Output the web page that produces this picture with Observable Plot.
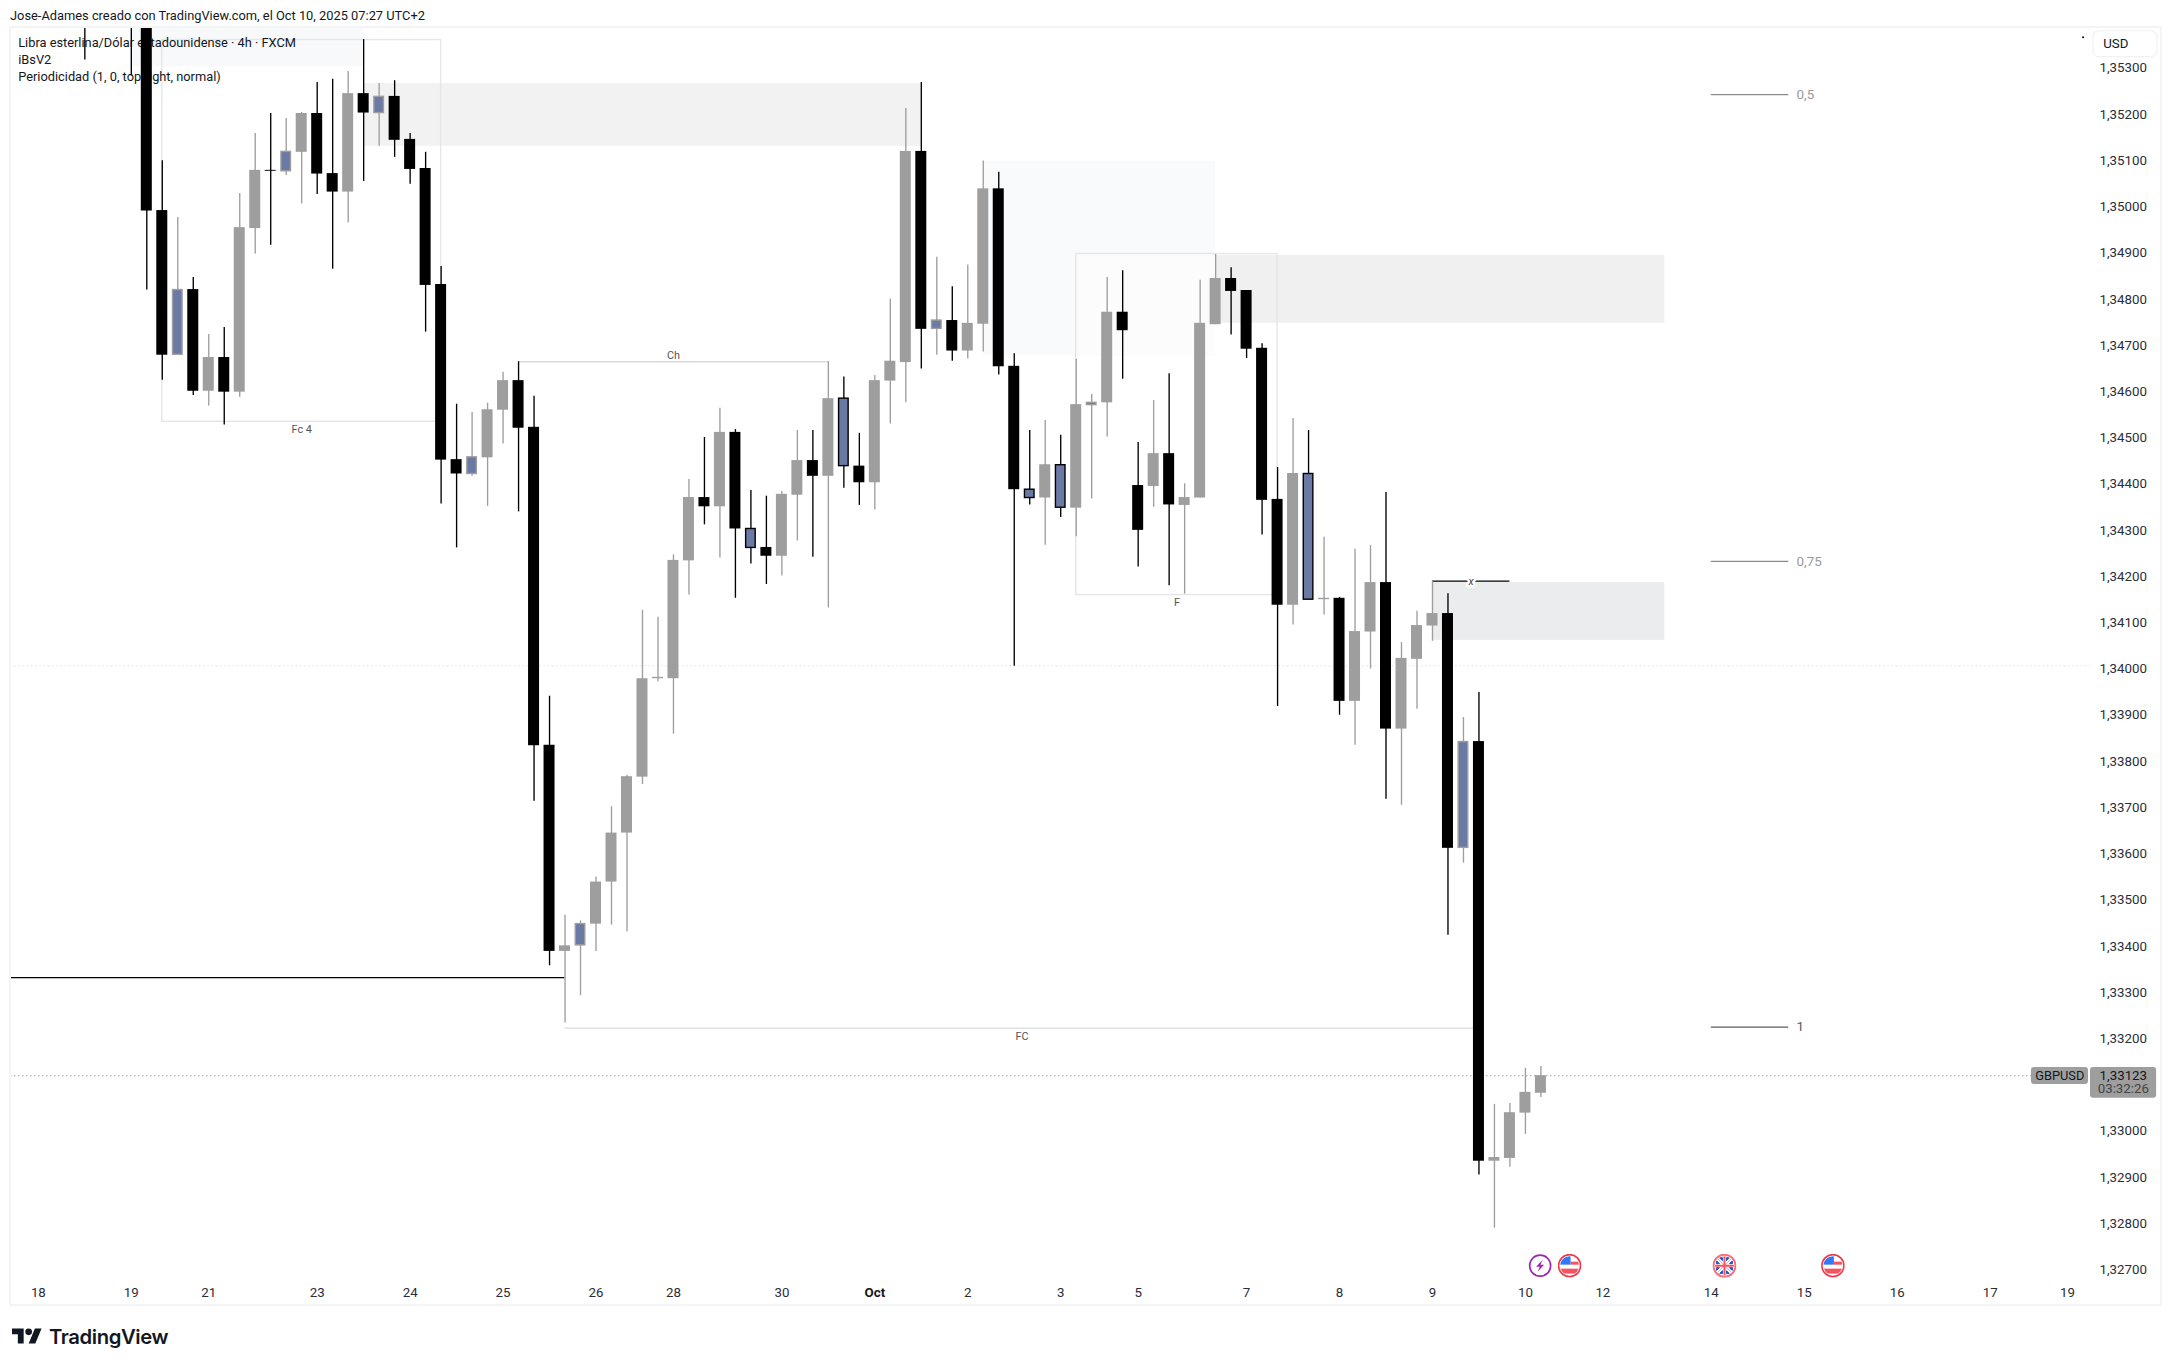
<!DOCTYPE html>
<html lang="es">
<head>
<meta charset="utf-8">
<title>GBPUSD</title>
<script src="https://cdn.jsdelivr.net/npm/d3@7"></script>
<script src="https://cdn.jsdelivr.net/npm/@observablehq/plot@0.6"></script>
<style>
  html, body { margin: 0; padding: 0; background: #fff; overflow: hidden; }
  body { width: 2171px; height: 1366px; position: relative; font-family: Roboto, "Liberation Sans", sans-serif; color: #131722; }
  #head { height: 27px; line-height: 31px; padding-left: 10px; font-size: 12.85px; white-space: nowrap; box-sizing: border-box; }
  #pane { position: relative; height: 1278px; }
  #border { position: absolute; left: 8.5px; top: 25.5px; width: 2153.5px; height: 1280.5px; box-sizing: border-box; border: 2px solid #f3f4f6; pointer-events: none; }
  #foot { position: absolute; left: 12px; top: 1323px; height: 26px; display: flex; align-items: center; gap: 7px; font-family: Inter, sans-serif; font-size: 20.3px; font-weight: 600; letter-spacing: -0.4px; color: #131722; }
</style>
</head>
<body>
<div id="head">Jose-Adames creado con TradingView.com, el Oct 10, 2025 07:27 UTC+2</div>
<div id="pane"></div>
<div id="border"></div>
<div id="foot"><svg width="30" height="16" viewBox="0 3.5 36 19"><path fill="#131722" d="M14 22H7V11H0V4h14v18zM28 22h-8l7.5-18h8L28 22z"/><circle fill="#131722" cx="20" cy="8" r="4"/></svg><span>TradingView</span></div>
<script>
// Candles: bar number, then prices in 1e-5 units
const barNumbers = [-4,-1,0,1,2,3,4,5,6,7,8,9,10,11,12,13,14,15,16,17,18,19,20,21,22,23,24,25,26,27,28,29,30,31,32,33,34,35,36,37,38,39,40,41,42,43,44,45,46,47,48,49,50,51,52,53,54,55,56,57,58,59,60,61,62,63,64,65,66,67,68,69,70,71,72,73,74,75,76,77,78,79,80,81,82,83,84,85,86,87,88,89,90];
const highs = [135600,135600,135650,135100,134977,134847,134724,134739,135029,135159,135202,135191,135204,135269,135276,135293,135362,135267,135273,135159,135118,134871,134573,134555,134575,134642,134665,134590,133941,133467,133455,133550,133702,133770,134127,134112,134247,134410,134501,134564,134518,134386,134374,134384,134516,134516,134665,134632,134510,134635,134800,135213,135269,134891,134827,134874,135099,135075,134682,134516,134538,134506,134670,134594,134847,134862,134490,134581,134639,134401,134841,134897,134868,134819,134704,134436,134542,134516,134285,134155,134259,134267,134382,134057,134125,134190,134163,133895,133949,133058,133060,133136,133140];
const bodyTops = [135550,135550,135600,134992,134820,134821,134674,134674,134955,135079,135079,135119,135202,135202,135072,135245,135245,135238,135239,135146,135083,134832,134453,134458,134561,134624,134624,134523,133835,133401,133448,133539,133645,133767,133979,133982,134235,134371,134371,134512,134512,134303,134263,134378,134451,134451,134585,134585,134439,134624,134666,135120,135120,134754,134754,134748,135039,135039,134655,134388,134442,134441,134572,134576,134772,134772,134397,134466,134466,134371,134748,134845,134845,134819,134694,134367,134423,134422,134153,134153,134081,134187,134187,134023,134094,134120,134120,133842,133843,132943,133040,133084,133120];
const bodyBottoms = [135450,135420,134991,134679,134680,134601,134601,134599,134599,134953,135077,135077,135118,135071,135032,135032,135203,135203,135144,135081,134830,134452,134422,134422,134457,134560,134521,133834,133389,133389,133402,133448,133539,133645,133766,133979,133979,134234,134351,134351,134303,134262,134244,134244,134376,134417,134417,134439,134403,134403,134623,134663,134735,134736,134688,134688,134746,134654,134388,134370,134370,134349,134348,134571,134576,134732,134300,134395,134355,134354,134370,134745,134817,134692,134365,134138,134138,134150,134150,133930,133930,134080,133870,133870,134021,134093,133612,133613,132935,132935,132941,133039,133082];
const lows = [135318,135283,134820,134625,134680,134592,134569,134528,134588,134898,134917,135068,135006,135027,134865,134965,135055,135131,135107,135049,134729,134357,134262,134417,134352,134487,134340,133714,133358,133234,133293,133389,133446,133431,133750,133972,133859,134160,134312,134240,134153,134227,134183,134201,134277,134242,134132,134391,134354,134344,134530,134576,134649,134679,134666,134671,134686,134636,134006,134355,134268,134328,134286,134368,134502,134627,134221,134350,134180,134162,134370,134745,134723,134672,134290,133919,134095,134150,134117,133900,133835,134000,133718,133705,133913,134060,133424,133580,132905,132790,132922,132993,133073];
// B black, G grey, L blue with grey edge, K blue with black edge
const kinds = "BBBBLBGBGGBLGBBGBLBBBBBLGGBBBGLGGGGGGGBGBKBGGBGKBGGGBLBGGBBKGKGLGBBGBGGGBBBBGKGBGGBGGGBLBGGGG".split("");

const yTicks = d3.range(1.327, 1.3535, 0.001).filter(v => Math.abs(v - 1.331) > 1e-6);
const timeLabels = ["18","19","21","23","24","25","26","28","30","2","3","5","7","8","9","10","12","14","15","16","17","19"];
const timeBars = [-7,-1,4,11,17,23,29,34,41,53,59,64,71,77,83,89,94,101,107,113,119,124];
const monthLabels = ["Oct"];
const monthBars = [47];

const shadeFrom = [-1,14,54,60,69,83];
const shadeTo = [14,50,69,69,98,98];
const shadeTop = [135500,135267,135099,134898,134895,134187];
const shadeBottom = [135304,135131,134677,134677,134748,134062];
const shadeFill = ["#f8f9fb","#f2f2f2","#f9fafc","#fbfcfb","#f0f0f0","#ebecee"];

const boxFrom = [1,60];
const boxTo = [19,73];
const boxTop = [135361,134898];
const boxBottom = [134535,134160];

const noteText = ["Fc 4","Ch","F","FC"];
const noteBar = [10,34,66.5,56.5];
const notePrice = [134518,134679,134143,133205];

const levelText = ["0,5","0,75","1"];
const levelPrice = [135243,134233,133225];
const levelStroke = ["#8a8a8a","#8a8a8a","#555a66"];
const levelFill = ["#9a9a9a","#9a9a9a","#555a66"];

const legendText = ["Libra esterlina/Dólar estadounidense · 4h · FXCM","iBsV2","Periodicidad (1, 0, top-right, normal)"];
const legendPrice = [135354,135317,135281];

const P = v => v / 1e5;
const candles = barNumbers.map((bar, k) => ({
  bar, kind: kinds[k], high: P(highs[k]), top: P(bodyTops[k]), bottom: P(bodyBottoms[k]), low: P(lows[k])
}));
const fillOf = {B:"#000000", G:"#9e9e9e", L:"#6b79a5", K:"#6b79a5"};
const edgeOf = {B:"#000000", G:"#9e9e9e", L:"#9e9e9e", K:"#000000"};
const wickOf = {B:"#000000", G:"#9e9e9e", L:"#9e9e9e", K:"#000000"};
const shades = shadeFrom.map((a, k) => ({a, b: shadeTo[k], t: P(shadeTop[k]), d: P(shadeBottom[k]), fill: shadeFill[k]}));
const boxes = boxFrom.map((a, k) => ({a, b: boxTo[k], t: P(boxTop[k]), d: P(boxBottom[k])}));
const notes = noteText.map((text, k) => ({text, bar: noteBar[k], price: P(notePrice[k])}));
const levels = levelText.map((text, k) => ({text, price: P(levelPrice[k]), stroke: levelStroke[k], fill: levelFill[k]}));
const legends = legendText.map((text, k) => ({text, price: P(legendPrice[k])}));

const uri = s => "data:image/svg+xml," + encodeURIComponent(s);
const usIcon = uri('<svg xmlns="http://www.w3.org/2000/svg" viewBox="0 0 24 24"><defs><clipPath id="c"><circle cx="12" cy="12" r="9.5"/></clipPath></defs><circle cx="12" cy="12" r="11" fill="#fff" stroke="#f23645" stroke-width="1.6"/><g clip-path="url(#c)"><rect width="24" height="24" fill="#fff"/><rect x="13" y="8" width="11" height="3" fill="#f7525f"/><rect y="15" width="24" height="5" fill="#f7525f"/><rect x="2" y="2" width="11" height="9" fill="#3179f5"/></g></svg>');
const ukIcon = uri('<svg xmlns="http://www.w3.org/2000/svg" viewBox="0 0 24 24"><defs><clipPath id="c"><circle cx="12" cy="12" r="9.5"/></clipPath></defs><circle cx="12" cy="12" r="11" fill="#fff" stroke="#f7707c" stroke-width="2"/><g clip-path="url(#c)"><rect width="24" height="24" fill="#fff"/><path d="M7 4h3v3zM14 4h3l-3 3zM7 20h3v-3zM14 20h3l-3-3zM4 7v3h3zM20 7v3h-3zM4 17v-3h3zM20 17v-3h-3z" fill="#2456c8" stroke="#2456c8"/><path d="M2 2L22 22M22 2L2 22" stroke="#f7a0a8" stroke-width="1"/><path d="M12 0V24M0 12H24" stroke="#f7525f" stroke-width="2"/></g></svg>');
const boltIcon = uri('<svg xmlns="http://www.w3.org/2000/svg" viewBox="0 0 24 24"><circle cx="12" cy="12" r="10.5" fill="#fff" stroke="#9c27b0" stroke-width="1.7"/><path d="M14.5 6L8 13.2h3.6L9.5 18l6.5-7h-3.6z" fill="#9c27b0"/></svg>');
const eventBars = [89.95,91.85,101.85,108.85];
const eventIcons = [boltIcon,usIcon,ukIcon,usIcon];
const eventPrice = 132709;
const events = eventBars.map((bar, k) => ({bar, src: eventIcons[k], price: P(eventPrice)}));

const bodyHalf = 0.355;
const fmtPrice = v => d3.format(".5f")(v).replace(".", ",");

const chart = Plot.plot({
  width: 2171, height: 1278,
  marginLeft: 10, marginRight: 81, marginTop: 0, marginBottom: 27,
  style: {fontFamily: "Roboto, 'Liberation Sans', sans-serif", fontSize: "13.3px", background: "transparent", color: "#131722"},
  x: {type: "linear", domain: [-8.799, 125.48]},
  y: {type: "linear", domain: [1.326812, 1.353881]},
  marks: [
    Plot.rect(shades, {x1: "a", x2: "b", y1: "d", y2: "t", fill: "fill", clip: true}),
    Plot.rect(boxes, {x1: "a", x2: "b", y1: "d", y2: "t", fill: "none", stroke: "#e4e6ea", strokeWidth: 1.4, clip: true}),
    Plot.ruleY([P(134007)], {stroke: "#dcdcdc", strokeWidth: 1, strokeDasharray: "1.4 2.8"}),
    Plot.ruleY([P(133120)], {x1: -8.799, x2: 121.67, stroke: "#9a9a9a", strokeWidth: 1.1, strokeDasharray: "1.4 2.6"}),
    Plot.text(legends, {x: -8.3, y: "price", text: "text", textAnchor: "start", fontSize: 12.8, fill: "#131722"}),

    Plot.ruleY([P(134665)], {x1: 24, x2: 44, stroke: "#d9dae0", strokeWidth: 1.4}),
    Plot.ruleY([P(133223)], {x1: 27, x2: 85.8, stroke: "#d9dae0", strokeWidth: 1.4}),
    Plot.ruleY([P(133332.4)], {x1: -8.799, x2: 27, stroke: "#000", strokeWidth: 1.2}),
    Plot.ruleY([P(134190)], {x1: 83, x2: 88, stroke: "#000", strokeWidth: 1.2}),
    Plot.text(["x"], {x: 85.5, y: P(134190), text: d => d, fontSize: 10.8, fontStyle: "italic", fill: "#444", stroke: "#fff", strokeWidth: 5, paintOrder: "stroke"}),

    Plot.ruleX(candles, {x: "bar", y1: "low", y2: "high", stroke: d => wickOf[d.kind], strokeWidth: 1.35, clip: true}),
    Plot.rect(candles.filter(d => d.kind === "B" || d.kind === "G"), {
      x1: d => d.bar - bodyHalf, x2: d => d.bar + bodyHalf, y1: "bottom", y2: "top",
      fill: d => fillOf[d.kind], clip: true
    }),
    Plot.rect(candles.filter(d => d.kind === "L" || d.kind === "K"), {
      x1: d => d.bar - bodyHalf * 0.87, x2: d => d.bar + bodyHalf * 0.87, y1: "bottom", y2: "top",
      fill: d => fillOf[d.kind], stroke: d => edgeOf[d.kind], strokeWidth: 1.4, clip: true
    }),

    Plot.text(notes, {x: "bar", y: "price", text: "text", fontSize: 10.8, fill: "#555"}),
    Plot.ruleY(levels, {y: "price", x1: 101, x2: 106, stroke: "stroke", strokeWidth: 1.3}),
    Plot.text(levels, {x: 106.5, y: "price", text: "text", textAnchor: "start", fontSize: 13.4, fill: "fill"}),

    Plot.image(events, {x: "bar", y: "price", src: "src", width: 24, height: 24}),

    Plot.axisY(yTicks, {anchor: "right", tickSize: 0, tickPadding: 9, tickFormat: fmtPrice, fill: "#2a2e39", fontSize: 13.3, label: null}),
    Plot.axisX(timeBars, {anchor: "bottom", tickSize: 0, tickPadding: 9, tickFormat: (d, k) => timeLabels[k], fill: "#2a2e39", fontSize: 13.3, label: null}),
    Plot.axisX(monthBars, {anchor: "bottom", tickSize: 0, tickPadding: 9, tickFormat: (d, k) => monthLabels[k], fill: "#131722", fontSize: 13.3, fontWeight: 700, label: null}),

    Plot.dot([P(135367)], {x: 125.0, y: d => d, r: 1.1, fill: "#131722"}),
    Plot.rect([0], {x1: 125.67, x2: 129.8, y1: P(135324), y2: P(135380), fill: "#fff", stroke: "#f0f1f4", strokeWidth: 1.2, rx: 6}),
    Plot.text(["USD"], {x: 126.3, y: P(135352), text: d => d, textAnchor: "start", fontSize: 13.3, fill: "#131722"}),
    Plot.rect([0], {x1: 121.67, x2: 125.35, y1: P(133101), y2: P(133138), fill: "#9e9e9e", rx: 3}),
    Plot.text(["GBPUSD"], {x: 123.5, y: P(133120), text: d => d, fontSize: 12.8, fill: "#131722"}),
    Plot.rect([0], {x1: 125.48, x2: 129.75, y1: P(133071), y2: P(133138), fill: "#9e9e9e", rx: 3}),
    Plot.text(["1,33123"], {x: 127.6, y: P(133120), text: d => d, fontSize: 13.3, fill: "#131722"}),
    Plot.text(["03:32:26"], {x: 127.6, y: P(133091), text: d => d, fontSize: 13.3, fill: "#444"})
  ]
});
document.getElementById("pane").appendChild(chart);
</script>
</body>
</html>
